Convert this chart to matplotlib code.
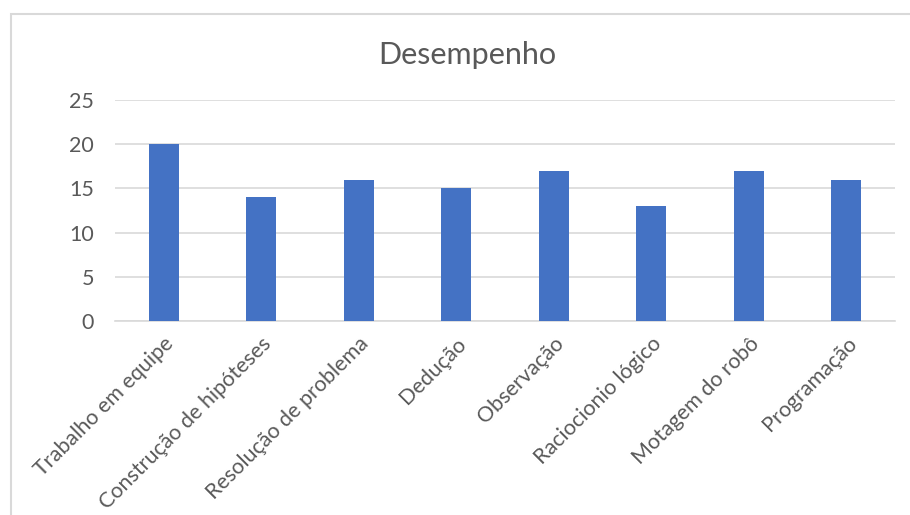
import matplotlib
matplotlib.use('Agg')
import matplotlib.pyplot as plt
from matplotlib.patches import Rectangle

# data
categorias = ['Trabalho em equipe', 'Construção de hipóteses', 'Resolução de problema',
              'Dedução', 'Observação', 'Raciocionio lógico', 'Motagem do robô', 'Programação']
valores = [20, 14, 16, 15, 17, 13, 17, 16]
yticks = [0, 5, 10, 15, 20, 25]

plt.rcParams['font.family'] = ['Lato', 'DejaVu Sans']
cor_texto = '#595959'

fig = plt.figure(figsize=(9.1, 5.15), dpi=100)
ax = fig.add_axes([0.1264, 0.3767, 0.857, 0.4291])

# chart border (light gray, only top and left visible)
fig.patches.append(Rectangle((11 / 910, -0.1), 1.2, 1 - 14 / 515 + 0.1,
                             transform=fig.transFigure, fill=False,
                             edgecolor='#d9d9d9', linewidth=1.5))

x = range(len(categorias))
ax.bar(x, valores, width=0.31, color='#4472c4', zorder=3)

ax.set_xlim(-0.5, len(categorias) - 0.5)
ax.set_ylim(0, 25)
ax.set_yticks(yticks)
ax.yaxis.grid(True, color='#d9d9d9', linewidth=1.2, zorder=0)
for s in ['top', 'right', 'left']:
    ax.spines[s].set_visible(False)
ax.spines['bottom'].set_color('#d9d9d9')
ax.spines['bottom'].set_linewidth(1.2)

ax.tick_params(axis='both', length=0, colors=cor_texto, labelsize=15.5)
ax.tick_params(axis='y', pad=15)
ax.set_xticks(list(x))
ax.set_xticklabels(categorias, rotation=45, ha='right', rotation_mode='anchor')
ax.tick_params(axis='x', pad=9)
for lbl in ax.get_xticklabels():
    lbl.set_x(lbl.get_position()[0])

fig.text(0.514, 0.893, 'Desempenho', ha='center', va='center', fontsize=22, color=cor_texto)

fig.savefig('out.png', dpi=100)
